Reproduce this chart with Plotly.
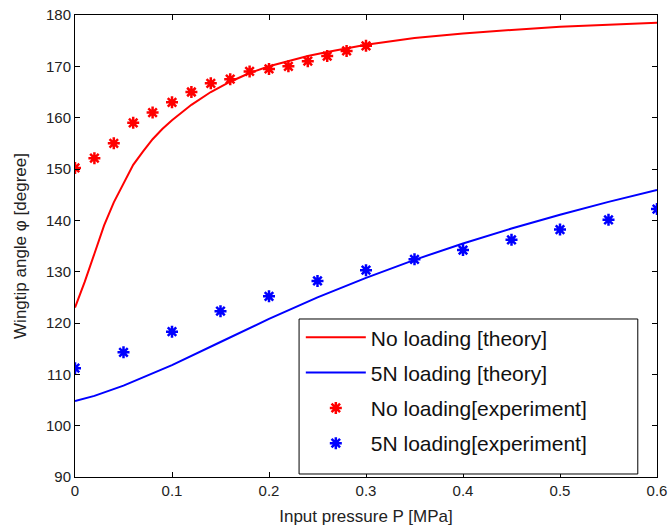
import plotly.graph_objects as go

# Theory curves
p_theory = [0.0, 0.01, 0.02, 0.03, 0.04, 0.05, 0.06, 0.07, 0.08, 0.09, 0.10,
            0.12, 0.14, 0.16, 0.18, 0.20, 0.22, 0.24, 0.26, 0.28, 0.30,
            0.35, 0.40, 0.45, 0.50, 0.55, 0.60]
no_load_theory = [123.0, 128.0, 133.5, 139.0, 143.5, 147.3, 150.8, 153.4, 155.8, 157.8, 159.5,
                  162.5, 165.0, 167.0, 168.7, 170.0, 171.0, 172.0, 172.8, 173.5, 174.2,
                  175.5, 176.4, 177.1, 177.7, 178.1, 178.5]

p_theory_5n = [0.0, 0.02, 0.05, 0.10, 0.15, 0.20, 0.25, 0.30, 0.35, 0.40, 0.45, 0.50, 0.55, 0.60]
load_5n_theory = [104.8, 105.8, 107.8, 111.8, 116.3, 120.8, 125.0, 128.8, 132.3, 135.5,
                  138.4, 141.1, 143.6, 145.9]

# Experimental measurements
p_exp_no_load = [0.0, 0.02, 0.04, 0.06, 0.08, 0.10, 0.12, 0.14, 0.16, 0.18,
                 0.20, 0.22, 0.24, 0.26, 0.28, 0.30]
no_load_exp = [150.2, 152.1, 155.0, 159.0, 161.0, 163.0, 165.0, 166.7, 167.5, 169.0,
               169.5, 170.0, 171.0, 172.0, 173.0, 174.0]

p_exp_5n = [0.0, 0.05, 0.10, 0.15, 0.20, 0.25, 0.30, 0.35, 0.40, 0.45, 0.50, 0.55, 0.60]
load_5n_exp = [111.2, 114.3, 118.3, 122.3, 125.2, 128.2, 130.3, 132.4, 134.2, 136.2,
               138.2, 140.1, 142.2]

x_ticks = [0, 0.1, 0.2, 0.3, 0.4, 0.5, 0.6]
x_tick_labels = ["0", "0.1", "0.2", "0.3", "0.4", "0.5", "0.6"]
y_ticks = [90, 100, 110, 120, 130, 140, 150, 160, 170, 180]

RED = "#ff0000"
BLUE = "#0000ff"

fig = go.Figure()
fig.add_trace(go.Scatter(x=p_theory, y=no_load_theory, mode="lines",
                         line=dict(color=RED, width=2), name="No loading [theory]",
                         legendgroup="a"))
fig.add_trace(go.Scatter(x=p_theory_5n, y=load_5n_theory, mode="lines",
                         line=dict(color=BLUE, width=2), name="5N loading [theory]",
                         legendgroup="b"))
fig.add_trace(go.Scatter(x=p_exp_no_load, y=no_load_exp, mode="markers",
                         marker=dict(symbol="asterisk-open", size=10, color=RED,
                                     line=dict(color=RED, width=2.5)),
                         name="No loading[experiment]", legendgroup="c"))
fig.add_trace(go.Scatter(x=p_exp_5n, y=load_5n_exp, mode="markers",
                         marker=dict(symbol="asterisk-open", size=10, color=BLUE,
                                     line=dict(color=BLUE, width=2.5)),
                         name="5N loading[experiment]", legendgroup="d"))

axis_common = dict(showline=True, linecolor="black", linewidth=1, mirror="ticks",
                   ticks="inside", ticklen=5, tickcolor="black", showgrid=False,
                   zeroline=False, automargin=False,
                   tickfont=dict(size=15, color="#222222"))

# Framed panel behind the legend entries
fig.add_shape(type="rect", xref="paper", yref="paper",
              x0=0.385, x1=0.967, y0=0.0065, y1=0.342,
              line=dict(color="black", width=1), fillcolor="white", layer="above")

fig.update_layout(
    width=670, height=532,
    margin=dict(l=75, r=13, t=15, b=55),
    paper_bgcolor="white", plot_bgcolor="white",
    font=dict(family="Arial, Liberation Sans, sans-serif", color="#222222"),
    xaxis=dict(range=[0, 0.6], tickvals=x_ticks, ticktext=x_tick_labels,
               title=dict(text="Input pressure P [MPa]", font=dict(size=17), standoff=12),
               **axis_common),
    yaxis=dict(range=[90, 180], tickvals=y_ticks,
               title=dict(text="Wingtip angle φ [degree]", font=dict(size=17), standoff=15),
               **axis_common),
    legend=dict(x=0.388, y=0.346, xanchor="left", yanchor="top",
                bgcolor="rgba(0,0,0,0)", borderwidth=0,
                font=dict(size=21, color="#111111"), tracegroupgap=5,
                itemwidth=60),
    showlegend=True,
)

fig.write_html("out.html")
